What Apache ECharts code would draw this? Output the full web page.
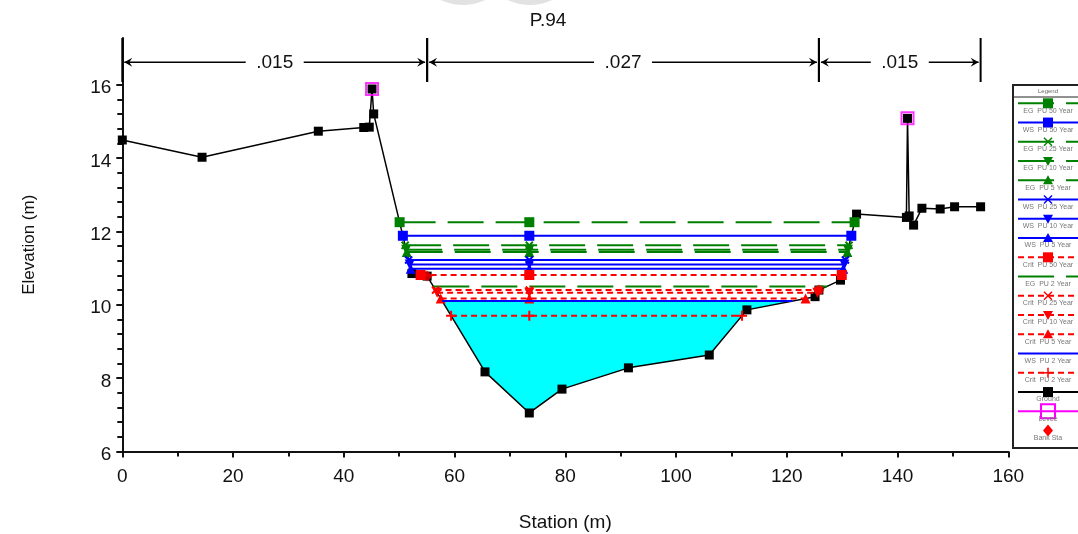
<!DOCTYPE html>
<html><head><meta charset="utf-8">
<script src="https://cdn.jsdelivr.net/npm/echarts@6/dist/echarts.min.js"></script>
<style>html,body{margin:0;padding:0;background:#fff;overflow:hidden}#c{width:1078px;height:534px}</style>
</head><body><div id="c"></div><script>
// ---------------- DATA ----------------
const chartTitle = 'P.94';
const groundSta  = [0, 14.4, 35.4, 43.6, 44.6, 45.1, 45.4, 52.3, 55.05, 65.5, 73.5, 79.4, 91.4, 106.0, 112.8, 125.1, 125.8, 129.7, 132.6, 141.6, 141.8, 142.1, 142.9, 144.4, 147.7, 150.3, 155.0];
const groundElev = [14.49, 14.02, 14.73, 14.83, 14.84, 15.88, 15.20, 10.85, 10.78, 8.17, 7.05, 7.70, 8.28, 8.63, 9.86, 10.22, 10.40, 10.67, 12.47, 12.38, 15.08, 12.42, 12.17, 12.63, 12.61, 12.67, 12.67];
const leveeSta   = [45.1, 141.8];
const leveeElev  = [15.88, 15.08];
const bankSta    = [55.05, 125.8];
const nBounds    = [0, 55.05, 125.8, 155.0];
const nValues    = ['.015', '.027', '.015'];
const profileNames = ['EG  PU 50 Year','WS  PU 50 Year','EG  PU 25 Year','EG  PU 10 Year','EG  PU 5 Year','WS  PU 25 Year','WS  PU 10 Year','WS  PU 5 Year','Crit  PU 50 Year','EG  PU 2 Year','Crit  PU 25 Year','Crit  PU 10 Year','Crit  PU 5 Year','WS  PU 2 Year','Crit  PU 2 Year'];
const profileElev  = [12.25, 11.88, 11.62, 11.50, 11.44, 11.22, 11.10, 10.98, 10.81, 10.50, 10.40, 10.33, 10.17, 10.10, 9.70];
const profileMarks = ['square','square','x','down','up','x','down','up','square','none','x','down','up','none','plus'];
const filledProfile = 'WS  PU 2 Year';
const xTicks = [0, 20, 40, 60, 80, 100, 120, 140, 160];
const yTicks = [6, 8, 10, 12, 14, 16];

// ---------------- LAYOUT / STYLE ----------------
const FONT = 'Liberation Sans, Arial, sans-serif';
const X_MIN = 0, X_MAX = 160, Y_MIN = 6, Y_MAX = 17.27;
const GRID = {left: 122.3, right: 69.7, top: 38, bottom: 82.5};
const plotH = 534 - GRID.top - GRID.bottom;
const top2 = GRID.top + plotH * (Y_MAX - yTicks[yTicks.length-1]) / (Y_MAX - Y_MIN);
const N_BAR_Y = 16.61, N_BAR_BOT = 16.07;
const kindStyle = {
  EG:   {color: '#008000', type: [36, 12], width: 2},
  WS:   {color: '#0000ff', type: 'solid', width: 2},
  Crit: {color: '#ff0000', type: [6, 4], width: 2}
};
const kindOf = n => n.startsWith('EG') ? 'EG' : (n.startsWith('WS') ? 'WS' : 'Crit');
const PLUS = 'path://M4,0H6V4H10V6H6V10H4V6H0V4H4Z';
function symbolFor(m){
  switch(m){
    case 'square': return {symbol:'rect', symbolSize:10, symbolRotate:0};
    case 'up': return {symbol:'triangle', symbolSize:10, symbolRotate:0};
    case 'down': return {symbol:'triangle', symbolSize:10, symbolRotate:180};
    case 'x': return {symbol:PLUS, symbolSize:10, symbolRotate:45};
    case 'plus': return {symbol:PLUS, symbolSize:10, symbolRotate:0};
    default: return {symbol:'none', symbolSize:0, symbolRotate:0};
  }
}

// ---------------- GEOMETRY HELPERS ----------------
const iMin = groundElev.indexOf(Math.min(...groundElev));
const thalweg = groundSta[iMin];
function interpX(i, j, lvl){
  const e0 = groundElev[i], e1 = groundElev[j];
  return groundSta[i] + (lvl - e0) / (e1 - e0) * (groundSta[j] - groundSta[i]);
}
function wetted(lvl){
  let i = iMin; while (i > 0 && groundElev[i-1] < lvl) i--;
  let j = iMin; while (j < groundElev.length-1 && groundElev[j+1] < lvl) j++;
  return {xl: interpX(i-1, i, lvl), xr: interpX(j+1, j, lvl), i: i, j: j};
}

// ---------------- SERIES ----------------
const series = [];
(function(){
  const lvl = profileElev[profileNames.indexOf(filledProfile)];
  const w = wetted(lvl);
  const poly = [[w.xl, lvl]];
  for (let k = w.i; k <= w.j; k++) poly.push([groundSta[k], groundElev[k]]);
  poly.push([w.xr, lvl]);
  series.push({
    type: 'custom', xAxisIndex: 0, yAxisIndex: 0, silent: true, z: 1,
    data: [[w.xl, lvl]],
    renderItem: function(params, api){
      return {type:'polygon', shape:{points: poly.map(p => api.coord(p))}, style:{fill:'#00ffff', stroke:'none'}};
    }
  });
})();
series.push({
  name: 'Ground', type: 'line', xAxisIndex: 0, yAxisIndex: 0, z: 2,
  data: groundSta.map((s, k) => [s, groundElev[k]]),
  lineStyle: {color:'#000', width:1.5}, symbol:'rect', symbolSize:9,
  itemStyle: {color:'#000'}, showAllSymbol: true, animation:false
});
profileNames.forEach((n, k) => {
  const lvl = profileElev[k];
  const w = wetted(lvl);
  const st = kindStyle[kindOf(n)];
  const sym = symbolFor(profileMarks[k]);
  series.push(Object.assign({
    name: n, type: 'line', xAxisIndex: 0, yAxisIndex: 0, z: 3 + k*0.01,
    data: [[w.xl, lvl], [thalweg, lvl], [w.xr, lvl]],
    lineStyle: {color: st.color, width: st.width, type: st.type},
    itemStyle: {color: st.color}, showAllSymbol: true, animation:false
  }, sym));
});
series.push({
  name: 'Bank Sta', type: 'scatter', xAxisIndex: 0, yAxisIndex: 0, z: 4,
  data: bankSta.map(s => [s, groundElev[groundSta.indexOf(s)]]),
  symbol: 'diamond', symbolSize: 11, itemStyle: {color:'#ff0000'}, animation:false
});
series.push({
  name: 'Levee', type: 'scatter', xAxisIndex: 0, yAxisIndex: 0, z: 5,
  data: leveeSta.map((s, k) => [s, leveeElev[k]]),
  symbol: 'rect', symbolSize: 12,
  itemStyle: {color:'rgba(0,0,0,0)', borderColor:'#ff00ff', borderWidth:2}, animation:false
});
series.push({
  type: 'custom', xAxisIndex: 0, yAxisIndex: 0, z: 6, clip: false, silent: true,
  data: nValues.map((v, k) => [nBounds[k], nBounds[k+1], k]),
  renderItem: function(params, api){
    const a = api.coord([api.value(0), N_BAR_Y]);
    const b = api.coord([api.value(1), N_BAR_Y]);
    const top = api.coord([api.value(0), Y_MAX])[1];
    const bot = api.coord([api.value(0), N_BAR_BOT])[1];
    const txt = nValues[api.value(2)];
    const mid = (a[0] + b[0]) / 2;
    const half = 29;
    const y = a[1];
    const ls = {stroke:'#000', lineWidth:1.5};
    const kids = [
      {type:'line', shape:{x1:a[0]+2, y1:y, x2:mid-half, y2:y}, style:ls},
      {type:'line', shape:{x1:mid+half, y1:y, x2:b[0]-2, y2:y}, style:ls},
      {type:'polygon', shape:{points:[[a[0]+2,y],[a[0]+10,y-4.5],[a[0]+7,y],[a[0]+10,y+4.5]]}, style:{fill:'#000'}},
      {type:'polygon', shape:{points:[[b[0]-2,y],[b[0]-10,y-4.5],[b[0]-7,y],[b[0]-10,y+4.5]]}, style:{fill:'#000'}},
      {type:'line', shape:{x1:a[0], y1:top, x2:a[0], y2:bot}, style:{stroke:'#000', lineWidth:2}},
      {type:'line', shape:{x1:b[0], y1:top, x2:b[0], y2:bot}, style:{stroke:'#000', lineWidth:2}},
      {type:'text', style:{text:txt, x:mid, y:y+1, align:'center', verticalAlign:'middle', font:'19px ' + FONT, fill:'#111'}}
    ];
    return {type:'group', children:kids};
  }
});
series.push({type:'line', xAxisIndex:1, yAxisIndex:1, data:[], silent:true});

// ---------------- LEGEND (graphic) ----------------
function markerEl(kind, cx, cy, color){
  const s = 5;
  switch(kind){
    case 'square': return {type:'rect', shape:{x:cx-s,y:cy-s,width:2*s,height:2*s}, style:{fill:color}};
    case 'up': return {type:'polygon', shape:{points:[[cx,cy-s],[cx+s,cy+s-1],[cx-s,cy+s-1]]}, style:{fill:color}};
    case 'down': return {type:'polygon', shape:{points:[[cx,cy+s],[cx+s,cy-s+1],[cx-s,cy-s+1]]}, style:{fill:color}};
    case 'x': return {type:'group', children:[
      {type:'line', shape:{x1:cx-4,y1:cy-4,x2:cx+4,y2:cy+4}, style:{stroke:color,lineWidth:1.5}},
      {type:'line', shape:{x1:cx-4,y1:cy+4,x2:cx+4,y2:cy-4}, style:{stroke:color,lineWidth:1.5}}]};
    case 'plus': return {type:'group', children:[
      {type:'line', shape:{x1:cx-5,y1:cy,x2:cx+5,y2:cy}, style:{stroke:color,lineWidth:1.5}},
      {type:'line', shape:{x1:cx,y1:cy-5,x2:cx,y2:cy+5}, style:{stroke:color,lineWidth:1.5}}]};
    case 'diamond': return {type:'polygon', shape:{points:[[cx,cy-6],[cx+5,cy],[cx,cy+6],[cx-5,cy]]}, style:{fill:color}};
    case 'open': return {type:'rect', shape:{x:cx-7,y:cy-7,width:14,height:14}, style:{fill:'none', stroke:color, lineWidth:2}};
    default: return null;
  }
}
const LX0 = 1013, LY0 = 85, LX1 = 1078, LH = 363, L_STEP = 19.25, L_FIRST = 103.3, L_MID = 1048;
const legendItems = profileNames.map((n, k) => {
  const st = kindStyle[kindOf(n)];
  return {name:n, color:st.color, dash:st.type, marker:profileMarks[k], line:true};
}).concat([
  {name:'Ground', color:'#000', dash:'solid', marker:'square', line:true},
  {name:'Levee', color:'#ff00ff', dash:'solid', marker:'open', line:true},
  {name:'Bank Sta', color:'#ff0000', dash:'solid', marker:'diamond', line:false}
]);
const legendEls = [
  {type:'rect', shape:{x:LX0, y:LY0, width:120, height:LH}, style:{fill:'#fff', stroke:'#222', lineWidth:2}},
  {type:'line', shape:{x1:LX0, y1:LY0+12, x2:LX1+10, y2:LY0+12}, style:{stroke:'#222', lineWidth:1}},
  {type:'text', style:{text:'Legend', x:L_MID, y:LY0+6, align:'center', verticalAlign:'middle', font:'6px ' + FONT, fill:'#666'}}
];
legendItems.forEach((it, k) => {
  const y = L_FIRST + L_STEP * k;
  if (it.line) {
    legendEls.push({type:'line', shape:{x1:LX0+5, y1:y, x2:LX1+10, y2:y},
      style:{stroke:it.color, lineWidth:2, lineDash: Array.isArray(it.dash) ? it.dash : null}});
  }
  const m = markerEl(it.marker, L_MID, y, it.color);
  if (m) legendEls.push(m);
  legendEls.push({type:'text', style:{text:it.name, x:L_MID, y:y+7.5, align:'center', verticalAlign:'middle', font:'7px ' + FONT, fill:'#777'}});
});

// ---------------- OPTION ----------------
const option = {
  backgroundColor: '#fff',
  animation: false,
  grid: [
    {left: GRID.left, right: GRID.right, top: GRID.top, bottom: GRID.bottom, containLabel: false, outerBoundsMode: 'none'},
    {left: GRID.left, right: GRID.right, top: top2, bottom: GRID.bottom, containLabel: false, outerBoundsMode: 'none'}
  ],
  xAxis: [
    {type:'value', gridIndex:0, min:X_MIN, max:X_MAX, interval:20,
     name:'Station (m)', nameLocation:'middle', nameGap:62,
     nameTextStyle:{fontFamily:FONT, fontSize:19, color:'#111'},
     axisLine:{show:true, onZero:false, lineStyle:{color:'#111', width:2}},
     axisTick:{show:true, length:6, lineStyle:{color:'#111', width:2}},
     minorTick:{show:true, splitNumber:2, length:5, lineStyle:{color:'#111', width:2}},
     axisLabel:{fontFamily:FONT, fontSize:19, color:'#111', margin:16,
       formatter: v => xTicks.indexOf(v) >= 0 ? String(v) : ''},
     splitLine:{show:false}},
    {type:'value', gridIndex:1, min:X_MIN, max:X_MAX, show:false}
  ],
  yAxis: [
    {type:'value', gridIndex:0, min:Y_MIN, max:Y_MAX, interval:2,
     name:'Elevation (m)', nameLocation:'middle', nameGap:84,
     nameTextStyle:{fontFamily:FONT, fontSize:17, color:'#111'},
     axisLine:{show:true, onZero:false, lineStyle:{color:'#111', width:2}},
     axisTick:{show:false}, axisLabel:{show:false}, splitLine:{show:false}},
    {type:'value', gridIndex:1, min:Y_MIN, max:yTicks[yTicks.length-1], interval:2,
     axisLine:{show:false},
     axisTick:{show:true, length:6, lineStyle:{color:'#111', width:2}},
     minorTick:{show:true, splitNumber:5, length:5, lineStyle:{color:'#111', width:2}},
     axisLabel:{margin:11,
       formatter: v => yTicks.indexOf(v) >= 0 ? '{a|' + v + '}' : '',
       rich:{a:{fontFamily:FONT, fontSize:19, color:'#111', padding:[7,0,0,0]}}},
     splitLine:{show:false}}
  ],
  series: series,
  graphic: [
    {type:'circle', shape:{cx:463, cy:-47, r:52}, style:{fill:'#e2e2e2'}, z:0},
    {type:'circle', shape:{cx:530, cy:-47, r:52}, style:{fill:'#e2e2e2'}, z:0},
    {type:'text', style:{text:chartTitle, x:548, y:21, align:'center', verticalAlign:'middle', font:'19px ' + FONT, fill:'#111'}, z:10},
    {type:'group', z:10, children: legendEls}
  ]
};
const chart = echarts.init(document.getElementById('c'));
chart.setOption(option);
</script></body></html>
